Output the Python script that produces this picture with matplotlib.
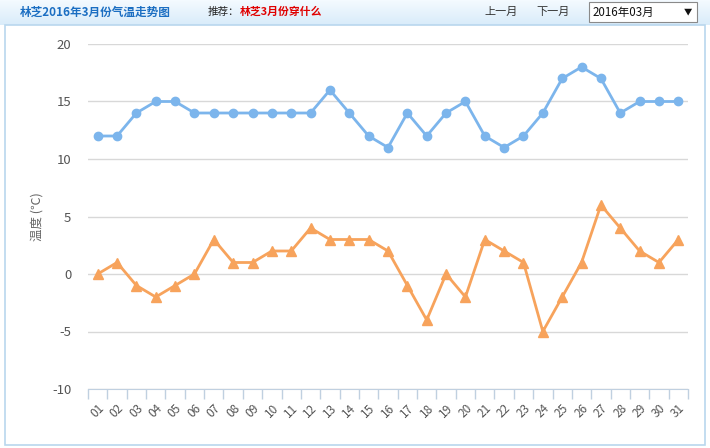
import matplotlib
matplotlib.use('Agg')
import matplotlib.pyplot as plt
from matplotlib.patches import Rectangle
import numpy as np

plt.rcParams['font.family'] = ['Noto Sans CJK SC', 'DejaVu Sans']

days = ['%02d' % d for d in range(1, 32)]
high = [12, 12, 14, 15, 15, 14, 14, 14, 14, 14, 14, 14, 16, 14, 12, 11,
        14, 12, 14, 15, 12, 11, 12, 14, 17, 18, 17, 14, 15, 15, 15]
low = [0, 1, -1, -2, -1, 0, 3, 1, 1, 2, 2, 4, 3, 3, 3, 2,
       -1, -4, 0, -2, 3, 2, 1, -5, -2, 1, 6, 4, 2, 1, 3]
yticks = [-10, -5, 0, 5, 10, 15, 20]

W, H = 710, 448
fig = plt.figure(figsize=(W / 100, H / 100), dpi=100)

# header bar + outer box
grad = np.linspace(0, 1, 24).reshape(-1, 1)
hdr = fig.add_axes([0, 1 - 25 / H, 1, 25 / H])
hdr.imshow(grad, aspect='auto', cmap=matplotlib.colors.LinearSegmentedColormap.from_list(
    'h', ['#f4faff', '#d9ecfa']), extent=[0, 1, 0, 1])
hdr.axis('off')
fig.patches.append(Rectangle((5 / W, 3 / H), 700 / W, (H - 28) / H, transform=fig.transFigure,
                             fill=False, edgecolor='#b9d7ee', linewidth=1.2))

ty = 1 - 12 / H
fig.text(20 / W, ty, '林芝2016年3月份气温走势图', color='#1b6ec2', fontsize=8.4,
         fontweight='bold', va='center')
fig.text(208 / W, ty, '推荐：', color='#222222', fontsize=7.6, va='center')
fig.text(240 / W, ty, '林芝3月份穿什么', color='#e00000', fontsize=7.8, fontweight='bold', va='center')
fig.text(484 / W, ty, '上一月', color='#333333', fontsize=8, va='center')
fig.text(536 / W, ty, '下一月', color='#333333', fontsize=8, va='center')
fig.patches.append(Rectangle((589 / W, 1 - 22 / H), 108 / W, 20 / H, transform=fig.transFigure,
                             facecolor='white', edgecolor='#8a8a8a', linewidth=0.8))
fig.text(593 / W, ty, '2016年03月', color='#111111', fontsize=8.3, va='center')
fig.text(688 / W, ty, '▼', color='#111111', fontsize=6, va='center', ha='center')

ax = fig.add_axes([88 / W, (H - 389) / H, 600 / W, 345 / H])
x = np.arange(len(days))
ax.plot(x, high, color='#7cb5ec', linewidth=2, marker='o', markersize=6, zorder=3)
ax.plot(x, low, color='#f7a35c', linewidth=2, marker='^', markersize=6.5, zorder=3)

ax.set_xlim(-0.5, len(days) - 0.5)
ax.set_ylim(-10, 20)
ax.set_yticks(yticks)
ax.set_yticklabels([str(v) for v in yticks])
ax.grid(axis='y', color='#d8d8d8', linewidth=1)
ax.set_axisbelow(True)

ax.set_xticks(np.arange(-0.5, len(days), 1), minor=False)
ax.set_xticklabels([])
ax.set_xticks(x, minor=True)
ax.set_xticklabels(days, minor=True, rotation=45, ha='right', va='top',
                   rotation_mode='anchor', fontsize=8.5, color='#555555')
ax.tick_params(axis='x', which='major', length=7, color='#c0d0e0', width=1)
ax.tick_params(axis='x', which='minor', length=0, pad=9)
ax.tick_params(axis='y', length=0, labelsize=9.5, labelcolor='#555555', pad=12)

for s in ['top', 'right', 'left']:
    ax.spines[s].set_visible(False)
ax.spines['bottom'].set_color('#c0d0e0')

ax.set_ylabel('温度 (℃)', fontsize=9, color='#666666', labelpad=6)

fig.savefig('out.png', dpi=100)
